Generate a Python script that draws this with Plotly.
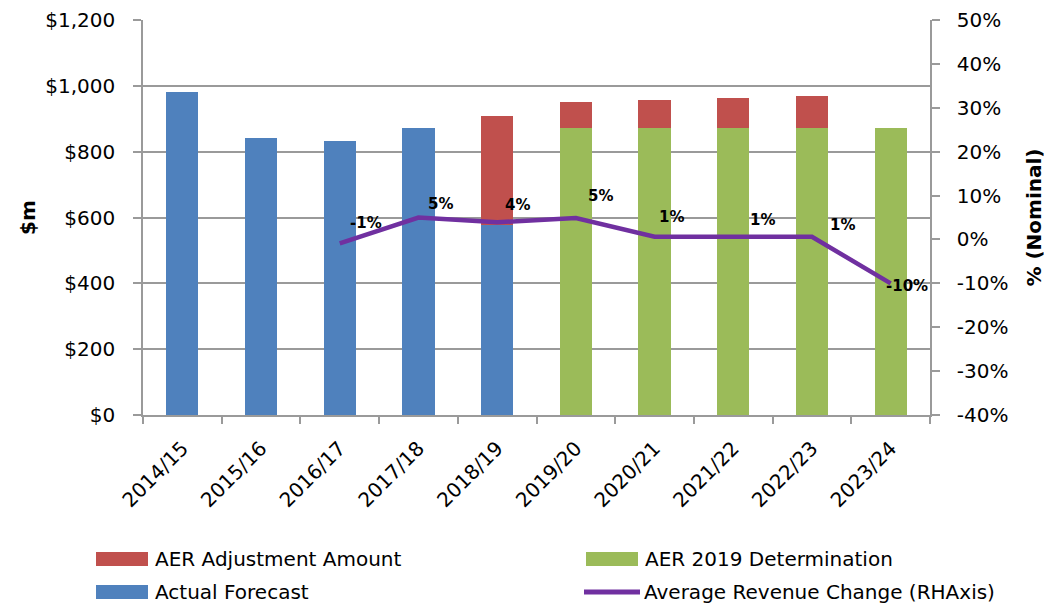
import plotly.graph_objects as go

# ---- data ----
categories = ["2014/15", "2015/16", "2016/17", "2017/18", "2018/19",
              "2019/20", "2020/21", "2021/22", "2022/23", "2023/24"]
actual_forecast = [980, 841, 832, 872, 577, None, None, None, None, None]
aer_2019_determination = [None, None, None, None, None, 872, 872, 872, 872, 872]
aer_adjustment_amount = [None, None, None, None, 331, 80, 85, 90, 97, None]
avg_revenue_change = [None, None, -0.009, 0.050, 0.039, 0.049, 0.006, 0.006, 0.006, -0.100]
revenue_change_labels = [None, None, "-1%", "5%", "4%", "5%", "1%", "1%", "1%", "-10%"]

left_tick_values = [0, 200, 400, 600, 800, 1000, 1200]
left_tick_labels = ["$0", "$200", "$400", "$600", "$800", "$1,000", "$1,200"]
right_tick_values = [-0.4, -0.3, -0.2, -0.1, 0.0, 0.1, 0.2, 0.3, 0.4, 0.5]
right_tick_labels = ["-40%", "-30%", "-20%", "-10%", "0%", "10%", "20%", "30%", "40%", "50%"]

series_names = {
    "adj": "AER Adjustment Amount",
    "det": "AER 2019 Determination",
    "af": "Actual Forecast",
    "chg": "Average Revenue Change (RHAxis)",
}

# ---- style ----
FONT = "DejaVu Sans"
BLUE = "#4F81BD"
RED = "#C0504D"
GREEN = "#9BBB59"
PURPLE = "#7030A0"
GRID = "#9A9A9A"
label_shifts = [None, None, (26, 20), (22, 14), (20, 17), (25, 22), (17, 20), (29, 17), (31, 12), (16, -3)]

PAGE_OFFSET = 8  # default body margin of the html page
ML, MR, MT, MB = 135, 122, 12, 189
W, H = 1044, 596
PW, PH = W - ML - MR, H - MT - MB


def px_x(px):
    return (px - PAGE_OFFSET - ML) / PW


def px_y(py):
    return (H - MB - (py - PAGE_OFFSET)) / PH


fig = go.Figure()
fig.add_trace(go.Bar(x=categories, y=actual_forecast, name=series_names["af"],
                     marker=dict(color=BLUE, line=dict(width=0))))
fig.add_trace(go.Bar(x=categories, y=aer_2019_determination, name=series_names["det"],
                     marker=dict(color=GREEN, line=dict(width=0))))
fig.add_trace(go.Bar(x=categories, y=aer_adjustment_amount, name=series_names["adj"],
                     marker=dict(color=RED, line=dict(width=0))))
fig.add_trace(go.Scatter(x=categories, y=avg_revenue_change, name=series_names["chg"],
                         mode="lines", line=dict(color=PURPLE, width=4.5),
                         yaxis="y2", connectgaps=False))

for cat, val, lab, sh in zip(categories, avg_revenue_change, revenue_change_labels, label_shifts):
    if lab is None:
        continue
    fig.add_annotation(x=cat, y=val, yref="y2", text=f"<b>{lab}</b>", showarrow=False,
                       xshift=sh[0], yshift=sh[1],
                       font=dict(family=FONT, size=15, color="#000000"))

# ---- legend (drawn as swatches + text, two columns) ----
legend_items = [
    # key, color, kind, swatch x0, swatch x1, row center y, text x
    ("adj", RED, "box", 96, 148, 559, 153),
    ("af", BLUE, "box", 96, 148, 592, 153),
    ("det", GREEN, "box", 586, 638, 559, 643),
    ("chg", PURPLE, "line", 584, 640, 592, 642),
]
for key, color, kind, sx0, sx1, cy, tx in legend_items:
    if kind == "box":
        fig.add_shape(type="rect", xref="paper", yref="paper",
                      x0=px_x(sx0), x1=px_x(sx1), y0=px_y(cy - 7), y1=px_y(cy + 7),
                      fillcolor=color, line=dict(width=0))
    else:
        fig.add_shape(type="line", xref="paper", yref="paper",
                      x0=px_x(sx0), x1=px_x(sx1), y0=px_y(cy), y1=px_y(cy),
                      line=dict(color=color, width=5))
    fig.add_annotation(xref="paper", yref="paper", x=px_x(tx), y=px_y(cy),
                       xanchor="left", yanchor="middle", showarrow=False,
                       text=series_names[key],
                       font=dict(family=FONT, size=20, color="#000000"))

fig.update_layout(
    width=W, height=H,
    margin=dict(l=ML, r=MR, t=MT, b=MB),
    paper_bgcolor="white", plot_bgcolor="white",
    barmode="stack", bargap=0.59, showlegend=False,
    font=dict(family=FONT, size=20, color="#000000"),
    xaxis=dict(type="category", range=[-0.5, 9.5], tickangle=-45, automargin=False,
               tickson="boundaries", ticks="outside", ticklen=7, tickcolor=GRID, tickwidth=1.5,
               showline=True, linecolor=GRID, linewidth=1.5, showgrid=False,
               ticklabelstandoff=12,
               tickfont=dict(family=FONT, size=20)),
    yaxis=dict(range=[0, 1200], tickvals=left_tick_values, ticktext=left_tick_labels,
               showgrid=True, gridcolor=GRID, gridwidth=1.5, automargin=False,
               showline=True, linecolor=GRID, linewidth=1.5,
               ticks="outside", ticklen=8, tickcolor=GRID, tickwidth=1.5, zeroline=False,
               ticklabelstandoff=14,
               tickfont=dict(family=FONT, size=20),
               title=dict(text="<b>$m</b>", font=dict(family=FONT, size=20), standoff=4)),
    yaxis2=dict(range=[-0.4, 0.5], tickvals=right_tick_values, ticktext=right_tick_labels,
                overlaying="y", side="right", automargin=False,
                showgrid=False, showline=True, linecolor=GRID, linewidth=1.5,
                ticks="outside", ticklen=8, tickcolor=GRID, tickwidth=1.5, zeroline=False,
                ticklabelstandoff=13,
                tickfont=dict(family=FONT, size=20),
                title=dict(text="<b>% (Nominal)</b>", font=dict(family=FONT, size=20), standoff=20)),
)

fig.write_html("out.html")
